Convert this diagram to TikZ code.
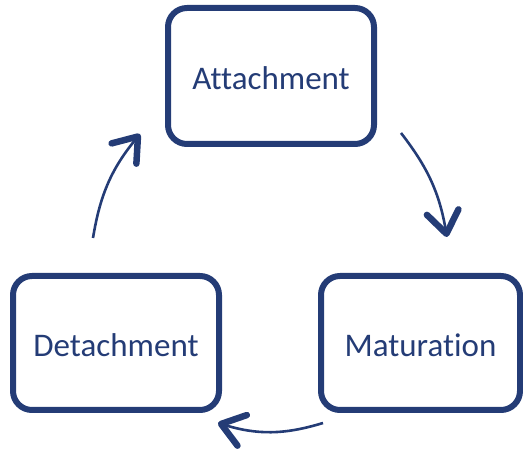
\documentclass[tikz,border=0pt]{standalone}
\usepackage{fontspec}
\setmainfont{Carlito}[Ligatures=NoCommon]
\usepackage{tikz}
\usetikzlibrary{arrows.meta}
\definecolor{navy}{RGB}{36,60,118}
\tikzstyle{stage}=[rectangle, rounded corners=19pt, draw=navy, line width=6pt, text=navy, font=\fontsize{33}{40}\selectfont, minimum height=134pt, text height=28pt, text depth=0pt]
\tikzstyle{cycle}=[draw=navy, line width=2.6pt, -{Straight Barb[length=22pt, width=32pt, line width=6.5pt, round]}]

\begin{document}
\begin{tikzpicture}[x=1pt, y=1pt]
            \useasboundingbox (0, 0) rectangle (523, 449);
            \node [style=stage, minimum width=206pt, minimum height=136pt] (attach) at (271, 373) {Attachment};
            \node [style=stage, minimum width=206pt] (detach) at (116, 106) {Detachment};
            \node [style=stage, minimum width=199pt] (mature) at (420.5, 106) {Maturation};

            \coordinate (a1) at (401, 316);
            \coordinate (a2) at (447, 212);
            \coordinate (b1) at (323, 26);
            \coordinate (b2) at (218, 26);
            \coordinate (c1) at (93, 211);
            \coordinate (c2) at (140, 315);

            \draw [style=cycle, bend left=14] (a1) to (a2);
            \draw [style=cycle, bend left=17] (b1) to (b2);
            \draw [style=cycle, bend left=15] (c1) to (c2);
        \end{tikzpicture}
\end{document}
